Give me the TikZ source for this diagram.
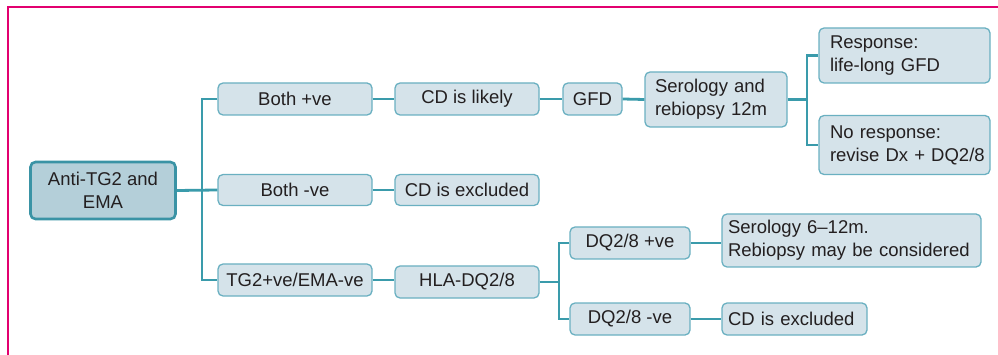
\documentclass[tikz,border=0pt]{standalone}
\usepackage{fontspec}
\setmainfont{Liberation Sans}
\usetikzlibrary{calc}
\definecolor{boxfill}{HTML}{D5E3EA}
\definecolor{boxline}{HTML}{6AB0C1}
\definecolor{conn}{HTML}{3A9BAB}
\definecolor{rootfill}{HTML}{B4CFD9}
\definecolor{rootline}{HTML}{3A93A5}
\definecolor{framecol}{HTML}{E2006F}
\definecolor{txt}{HTML}{231F20}
\tikzset{
  box/.style={draw=boxline, fill=boxfill, line width=1.3pt, rounded corners=5pt,
    text=txt, font=\fontsize{18.5}{23}\selectfont, inner sep=0pt, align=center},
  rootbox/.style={box, draw=rootline, fill=rootfill, line width=2.6pt},
  lbox/.style={box, align=left},
  link/.style={draw=conn, line width=2.8pt},
}
\begin{document}
\begin{tikzpicture}[x=1pt,y=-1pt]
\useasboundingbox (0,0) rectangle (998,355);
\draw[framecol, line width=2pt] (8,355) -- (8,7) -- (998,7);
% nodes
\node[rootbox, minimum width=145, minimum height=57] (anti) at (103,190.5) {Anti-TG2 and\\EMA};
\node[box, minimum width=154, minimum height=32] (bpos) at (295,99) {Both +ve};
\node[box, minimum width=144, minimum height=32] (likely) at (467,99) {CD is likely};
\node[box, minimum width=59, minimum height=32] (gfd) at (592.5,99) {GFD};
\node[lbox, text width=122, inner xsep=10, minimum height=55] (ser) at (716,99.5) {Serology and\\rebiopsy 12m};
\node[lbox, text width=169, inner xsep=1, minimum height=55] (resp) at (904.5,55.5) {\hspace*{10pt}Response:\\\hspace*{10pt}life-long GFD};
\node[lbox, text width=169, inner xsep=1, minimum height=59] (nores) at (904.5,145) {\hspace*{10pt}No response:\\\hspace*{10pt}revise Dx + DQ2/8};
\node[box, minimum width=154, minimum height=31] (bneg) at (295,190) {Both -ve};
\node[box, minimum width=144, minimum height=31] (excl) at (467,190) {CD is excluded};
\node[box, minimum width=154, minimum height=32] (tg) at (295,280) {TG2+ve/EMA-ve};
\node[box, minimum width=144, minimum height=32] (hla) at (467,282) {HLA-DQ2/8};
\node[box, minimum width=120, minimum height=32] (dqp) at (630,243) {DQ2/8 +ve};
\node[box, minimum width=120, minimum height=32] (dqn) at (630,319) {DQ2/8 -ve};
\node[lbox, text width=253, inner xsep=3, minimum height=53] (ser2) at (851.5,240.5) {\hspace*{3pt}Serology 6–12m.\\\hspace*{3pt}Rebiopsy may be considered};
\node[lbox, text width=133, inner xsep=6, minimum height=32] (excl2) at (794.5,319) {CD is excluded};
% junctions
\coordinate (t) at (202,190);
\coordinate (b1) at (807,99.5);
\coordinate (b2) at (559,282);
% connectors
\draw[link] (bpos.west) -| (t) |- (tg.west);
\draw[link] (anti.east) -- (bneg.west);
\draw[link] (bpos.east) -- (likely.west);
\draw[link] (likely.east) -- (gfd.west);
\draw[link] (gfd.east) -- (ser.west);
\draw[link] (resp.west) -| (b1) |- (nores.west);
\draw[link] (ser.east) -- (b1);
\draw[link] (bneg.east) -- (excl.west);
\draw[link] (tg.east) -- (tg.east -| hla.west);
\draw[link] (dqp.west) -| (b2) |- (dqn.west);
\draw[link] (hla.east) -- (b2);
\draw[link] (dqp.east) -- (dqp.east -| ser2.west);
\draw[link] (dqn.east) -- (excl2.west);
\end{tikzpicture}
\end{document}
